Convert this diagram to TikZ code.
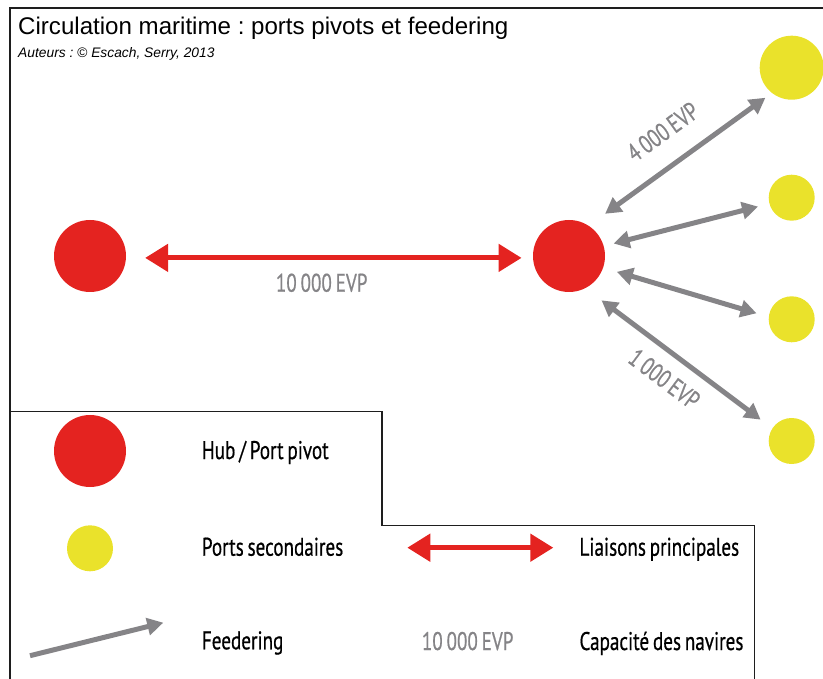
\documentclass[tikz,border=0pt]{standalone}
\usepackage{fontspec}
\setmainfont{Liberation Sans}
\newfontfamily\cond[FakeStretch=0.75,FakeBold=0.6,WordSpace=0.75]{PT Sans}
\usetikzlibrary{arrows.meta}
\definecolor{hubred}{HTML}{E42320}
\definecolor{portyel}{HTML}{EAE22B}
\definecolor{feedgray}{HTML}{858487}
\definecolor{framek}{HTML}{1E1E1E}
\frenchspacing
\begin{document}
\begin{tikzpicture}[x=1pt,y=-1pt,
  hub/.style={circle,fill=hubred,draw=none,minimum size=72pt,inner sep=0pt},
  bigport/.style={circle,fill=portyel,draw=none,minimum size=64pt,inner sep=0pt},
  port/.style={circle,fill=portyel,draw=none,minimum size=46pt,inner sep=0pt},
  mainlink/.style={draw=hubred,line width=5pt,{Triangle[length=23pt,width=27pt]}-{Triangle[length=23pt,width=27pt]}},
  feed/.style={draw=feedgray,line width=5pt,{Triangle[length=16pt,width=17pt]}-{Triangle[length=16pt,width=17pt]}},
  feedone/.style={draw=feedgray,line width=5pt,-{Triangle[length=16pt,width=17pt]}},
  lbl/.style={font=\cond\fontsize{25.5}{25.5}\selectfont,text=black,inner sep=0pt,anchor=base west},
  caplbl/.style={font=\cond\fontsize{25.5}{25.5}\selectfont,text=feedgray,inner sep=0pt,anchor=base},
  framerule/.style={draw=framek,line width=1.6pt}]
\useasboundingbox (0,0) rectangle (823,679);
% frames
\draw[framerule] (10,679) -- (10,8) -- (823,8);
\draw[framerule] (10,411.5) -- (382,411.5) -- (382,525.5) -- (754.5,525.5) -- (754.5,679);
% titles
\node[anchor=base west,inner sep=0pt,font=\fontsize{24.1}{25}\selectfont] (title) at (18,34.5) {Circulation maritime : ports pivots et feedering};
\node[anchor=base west,inner sep=0pt,font=\itshape\fontsize{13.8}{14}\selectfont] (authors) at (18,57.3) {Auteurs : © Escach, Serry, 2013};
% nodes
\node[hub] (hubL) at (90,256) {};
\node[hub] (hubR) at (569,256) {};
\node[bigport] (p1) at (791.7,67.7) {};
\node[port] (p2) at (791.7,197.7) {};
\node[port] (p3) at (791.7,319.3) {};
\node[port] (p4) at (791.7,441) {};
% links
\draw[mainlink,shorten <=19pt,shorten >=11.3pt] (hubL.-3.7) -- (hubR.183.7);
\draw[feed,shorten <=20.2pt,shorten >=8pt] (hubR.57) -- (p1.232.2);
\draw[feed,shorten <=10.1pt,shorten >=11.6pt] (hubR.16.5) -- (p2.195.6);
\draw[feed,shorten <=14.2pt,shorten >=12.6pt] (hubR.341.1) -- (p3.174);
\draw[feed,shorten <=20.1pt,shorten >=14.5pt] (hubR.297.6) -- (p4.147.6);
% capacity labels
\node[caplbl] (c0) at (321.7,291.7) {10 000 EVP};
\node[caplbl,rotate=35.9] (c1) at (668,139) {4 000 EVP};
\node[caplbl,rotate=-37] (c2) at (659,386) {1 000 EVP};
% legend
\node[hub] (lhub) at (90,451) {};
\node[port] (lport) at (90,548.3) {};
\coordinate (lrs) at (407.3,547.7);
\coordinate (lre) at (553.3,547.7);
\draw[mainlink] (lrs) -- (lre);
\coordinate (lfs) at (30,655.7);
\coordinate (lfe) at (163.3,622.7);
\draw[feedone] (lfs) -- (lfe);
\node[lbl] (t1) at (201.7,459) {Hub / Port pivot};
\node[lbl] (t2) at (201.7,555.7) {Ports secondaires};
\node[lbl] (t3) at (579.3,555.7) {Liaisons principales};
\node[lbl] (t4) at (201.7,649.3) {Feedering};
\node[lbl,text=feedgray] (t5) at (421.7,650) {10 000 EVP};
\node[lbl] (t6) at (579.3,650) {Capacité des navires};
\end{tikzpicture}
\end{document}
